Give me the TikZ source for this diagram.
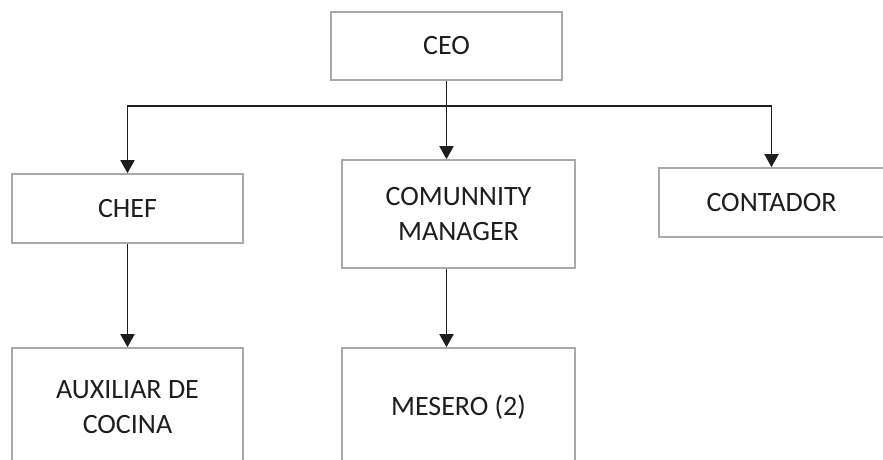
\documentclass[tikz,border=0pt]{standalone}
\usepackage{fontspec}
\setmainfont{Carlito}
\usetikzlibrary{positioning, calc, arrows.meta}
\definecolor{BoxLine}{HTML}{A9A9A9}
\definecolor{Ink}{HTML}{1E1E1E}
\tikzset{
    orgbox/.style={rectangle, draw=BoxLine, line width=1.6pt, fill=white, text=Ink, align=center, font=\fontsize{28}{35}\selectfont, minimum width=231pt, inner sep=0pt},
    arrow/.style={-{Triangle[width=14pt, length=13pt]}, line width=1.8pt, color=Ink},
    link/.style={line width=1.8pt, color=Ink},
}
\begin{document}
\begin{tikzpicture}[x=1pt, y=-1pt]
    \useasboundingbox (0,0) rectangle (883,460);
    \clip (0,0) rectangle (883,460);

    % Livello 1
    \node[orgbox, minimum height=68pt] (ceo) at (446.5,46) {CEO};

    % Livello 2
    \node[orgbox, minimum height=69pt] (chef) at (127.5,208.5) {CHEF};
    \node[orgbox, minimum width=233pt, minimum height=108pt] (cm) at (458.5,214) {COMUNNITY\\MANAGER};
    \node[orgbox, minimum width=225pt, minimum height=69pt] (contador) at (771.5,202.5) {CONTADOR};

    % Livello 3
    \node[orgbox, minimum height=119pt] (aux) at (127.5,407.5) {AUXILIAR DE\\COCINA};
    \node[orgbox, minimum width=233pt, minimum height=119pt] (mesero) at (458.5,407.5) {MESERO (2)};

    % Collegamenti
    \coordinate (split) at (ceo.south |- 0,106);
    \draw[link] (ceo.south) -- (split);
    \draw[arrow] (split) -| (chef.north);
    \draw[arrow] (split) -| (contador.north);
    \draw[arrow] (split) -- (split |- cm.north);
    \draw[arrow] (chef) -- (aux);
    \draw[arrow] (cm.south -| split) -- (mesero.north -| split);
\end{tikzpicture}
\end{document}
